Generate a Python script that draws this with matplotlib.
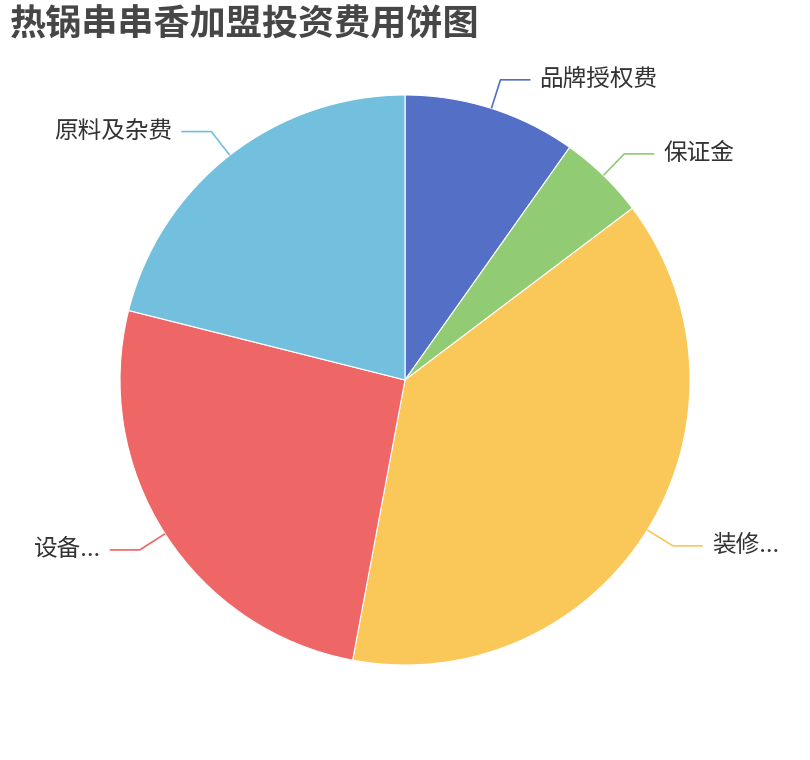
import numpy as np
import matplotlib.pyplot as plt

plt.rcParams['font.family'] = ['Noto Sans CJK SC', 'DejaVu Sans']

# data
labels = ['品牌授权费', '保证金', '装修...', '设备...', '原料及杂费']
values = [10, 5, 39, 26.5, 21.5]
colors = ['#5470c6', '#91cc75', '#fac858', '#ee6666', '#73c0de']

W, H = 810, 760
cx, cy, R = 405, H - 380, 285

fig = plt.figure(figsize=(W / 100, H / 100), dpi=100)
ax = fig.add_axes([0, 0, 1, 1])

wedges, _ = ax.pie(values, colors=colors, startangle=90, counterclock=False,
                   center=(cx, cy), radius=R,
                   wedgeprops=dict(edgecolor='white', linewidth=0.8))
ax.set_xlim(0, W)
ax.set_ylim(0, H)
ax.set_aspect('equal')
ax.axis('off')

# label lines: radial segment then horizontal segment
for w, lab, col in zip(wedges, labels, colors):
    mid = np.deg2rad((w.theta1 + w.theta2) / 2)
    x0, y0 = cx + R * np.cos(mid), cy + R * np.sin(mid)
    x1, y1 = cx + (R + 30) * np.cos(mid), cy + (R + 30) * np.sin(mid)
    side = 1 if np.cos(mid) >= 0 else -1
    x2 = x1 + side * 30
    ax.plot([x0, x1, x2], [y0, y1, y1], color=col, lw=1.2, solid_capstyle='butt')
    ax.text(x2 + side * 9, y1, lab, fontsize=17, color='#333333',
            ha='left' if side > 0 else 'right', va='center')

fig.text(10 / W, 1 - 25 / H, '热锅串串香加盟投资费用饼图', fontsize=26,
         fontweight='bold', color='#464646', ha='left', va='center')

fig.savefig('out.png', dpi=100)
